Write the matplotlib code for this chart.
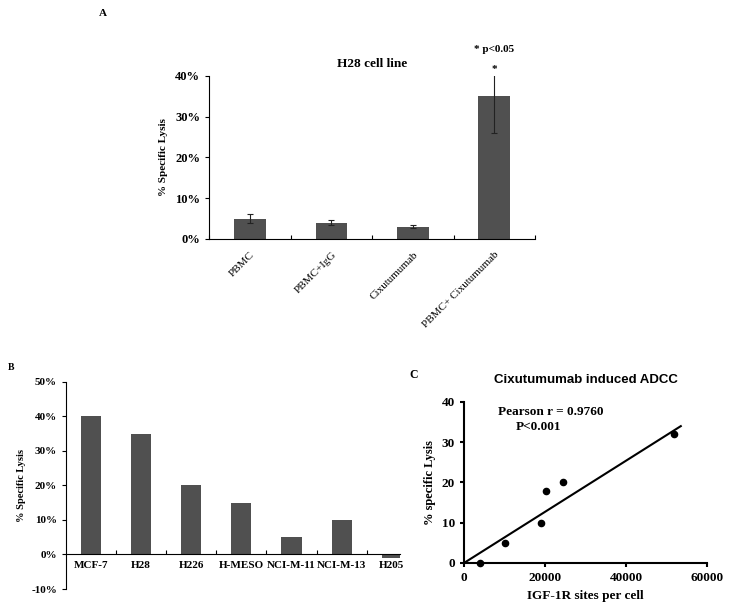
import matplotlib
matplotlib.use('Agg')
import matplotlib.pyplot as plt
import numpy as np
from matplotlib.ticker import PercentFormatter

plt.rcParams['font.family'] = 'Liberation Serif'
plt.rcParams['axes.unicode_minus'] = False

# panel A
a_groups = ['PBMC', 'PBMC+IgG', 'Cixutumumab', 'PBMC+ Cixutumumab']
a_lysis = [5, 4, 3, 35]
a_err = [1.0, 0.6, 0.4, 9.0]

# panel B
b_lines = ['MCF-7', 'H28', 'H226', 'H-MESO', 'NCI-M-11', 'NCI-M-13', 'H205']
b_lysis = [40, 35, 20, 15, 5, 10, -1]

# panel C
c_sites = [3956, 10137, 18956, 20192, 24313, 51758]
c_lysis = [0, 5, 10, 18, 20, 32]
fit_x = [0, 53500]
fit_y = [0, 34]

bar_col = '#505050'

fig = plt.figure(figsize=(7.29, 6.11), dpi=100)

# ---- A ----
ax = fig.add_axes([0.287, 0.609, 0.447, 0.267])
xa = np.arange(len(a_groups))
ax.bar(xa, a_lysis, width=0.39, color=bar_col)
ax.errorbar(xa, a_lysis, yerr=a_err, fmt='none', ecolor='#222222', elinewidth=0.8, capsize=2.5, capthick=0.8)
ax.set_xlim(-0.5, 3.5)
ax.set_ylim(0, 40)
ax.set_yticks([0, 10, 20, 30, 40])
ax.yaxis.set_major_formatter(PercentFormatter(decimals=0))
ax.set_xticks(np.arange(-0.5, 3.6, 1))
ax.set_xticklabels([])
ax.set_xticks(xa, minor=True)
ax.set_xticklabels(a_groups, minor=True, rotation=45, ha='right', rotation_mode='anchor', fontsize=8)
ax.tick_params(axis='x', which='minor', length=0, pad=8)
ax.tick_params(axis='x', which='major', direction='in', length=3)
ax.tick_params(axis='y', direction='out', length=3, labelsize=9)
for lab in ax.get_yticklabels():
    lab.set_fontweight('bold')
for s in ['top', 'right']:
    ax.spines[s].set_visible(False)
ax.set_ylabel('% Specific Lysis', fontsize=8, fontweight='bold', labelpad=5)
ax.set_title('H28 cell line', fontsize=9.5, fontweight='bold', pad=6)
ax.text(3, 41.5, '*', ha='center', va='center', fontsize=8, fontweight='bold', clip_on=False)
ax.text(3, 46.5, '* p<0.05', ha='center', va='center', fontsize=8, fontweight='bold', clip_on=False)
fig.text(0.141, 0.978, 'A', fontsize=8, fontweight='bold', ha='center', va='center')

# ---- B ----
bx = fig.add_axes([0.0905, 0.036, 0.4585, 0.339])
xb = np.arange(len(b_lines))
bx.bar(xb, b_lysis, width=0.4, color=bar_col)
bx.set_xlim(-0.5, 6.17)
bx.set_ylim(-10, 50)
bx.set_yticks(range(-10, 51, 10))
bx.yaxis.set_major_formatter(PercentFormatter(decimals=0))
bx.spines['bottom'].set_position(('data', 0))
for s in ['top', 'right']:
    bx.spines[s].set_visible(False)
bx.set_xticks(np.arange(0.5, 6, 1))
bx.set_xticklabels([])
bx.tick_params(axis='x', direction='in', length=3)
bx.tick_params(axis='y', direction='out', length=3, labelsize=8)
for lab in bx.get_yticklabels():
    lab.set_fontweight('bold')
for i, name in enumerate(b_lines):
    bx.text(xb[i], -3.2, name, ha='center', va='center', fontsize=8, fontweight='bold')
bx.set_ylabel('% Specific Lysis', fontsize=7.5, fontweight='bold')
fig.text(0.015, 0.399, 'B', fontsize=7, fontweight='bold', ha='center', va='center')

# ---- C ----
cx = fig.add_axes([0.6365, 0.0786, 0.3335, 0.2635])
cx.plot(fit_x, fit_y, color='black', lw=1.5)
cx.scatter(c_sites, c_lysis, s=20, color='black', zorder=3, clip_on=False)
cx.set_xlim(0, 60000)
cx.set_ylim(0, 40)
cx.set_xticks([0, 20000, 40000, 60000])
cx.set_yticks([0, 10, 20, 30, 40])
for s in ['top', 'right']:
    cx.spines[s].set_visible(False)
for s in ['left', 'bottom']:
    cx.spines[s].set_linewidth(1.5)
cx.tick_params(width=1.5, length=3, labelsize=9.5)
for lab in cx.get_xticklabels() + cx.get_yticklabels():
    lab.set_fontweight('bold')
cx.set_xlabel('IGF-1R sites per cell', fontsize=9.5, fontweight='bold')
cx.set_ylabel('% specific Lysis', fontsize=9, fontweight='bold')
cx.set_title('Cixutumumab induced ADCC', fontsize=9.5, fontweight='bold',
             family='Liberation Sans', pad=14)
cx.text(21500, 37.5, 'Pearson r = 0.9760', ha='center', va='center', fontsize=9.5, fontweight='bold')
cx.text(18500, 33.8, 'P<0.001', ha='center', va='center', fontsize=9.5, fontweight='bold')
fig.text(0.567, 0.386, 'C', fontsize=8.5, fontweight='bold', ha='center', va='center')

fig.savefig('out.png', dpi=100)
